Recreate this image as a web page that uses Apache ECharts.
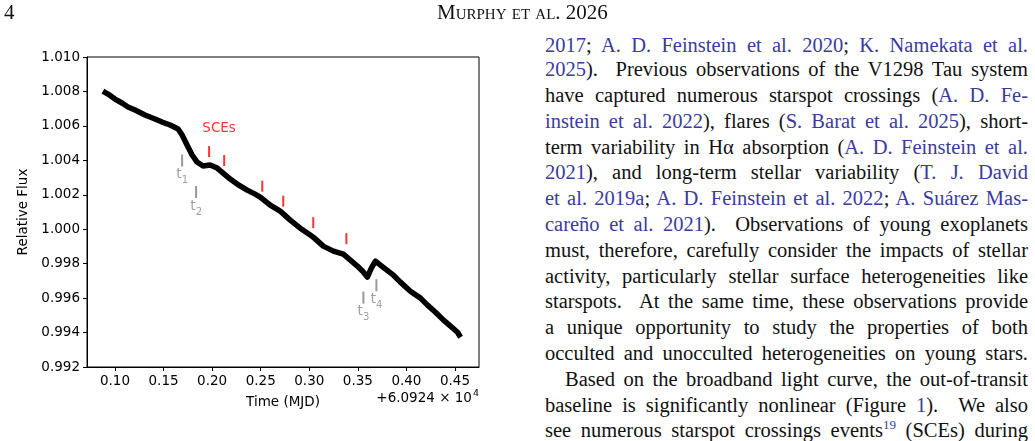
<!DOCTYPE html>
<html lang="en">
<head>
<meta charset="UTF-8">
<title>Light curve</title>
<script src="https://cdn.jsdelivr.net/npm/echarts@6/dist/echarts.min.js"></script>
<style>
    body { margin: 0; background: #fff; }
    #page { position: relative; width: 1035px; height: 441px; overflow: hidden; background: #fff; }
    #chart { position: absolute; left: 0; top: 0; width: 510px; height: 441px; }
    .serif { font-family: "Liberation Serif", "DejaVu Serif", serif; color: #111; }
    .pageno { position: absolute; left: 4px; top: 0px; font-size: 21px; line-height: 24px; }
    .runhead { position: absolute; left: 437px; top: 0px; font-size: 21px; line-height: 24px; font-variant: small-caps; }
    .ln { position: absolute; left: 545px; width: 483px; font-size: 20.5px; line-height: 24px; height: 24px;
          text-align: justify; text-align-last: justify; white-space: nowrap; }
    .ln.indent { left: 565px; width: 463px; }
    .c { color: #3b3b9c; }
    sup { font-size: 13px; line-height: 0; vertical-align: 8px; }
</style>
</head>
<body>
<div id="page">
    <div id="chart"></div>

    <div class="serif pageno">4</div>
    <div class="serif runhead">Murphy et al. 2026</div>

    <div class="serif ln" style="top:33px"><span class="c">2017</span>; <span class="c">A. D. Feinstein et al. 2020</span>; <span class="c">K. Namekata et al.</span></div>
    <div class="serif ln" style="top:57px"><span class="c">2025</span>). &nbsp;Previous observations of the V1298 Tau system</div>
    <div class="serif ln" style="top:83px">have captured numerous starspot crossings (<span class="c">A. D. Fe-</span></div>
    <div class="serif ln" style="top:109px"><span class="c">instein et al. 2022</span>), flares (<span class="c">S. Barat et al. 2025</span>), short-</div>
    <div class="serif ln" style="top:135px">term variability in H&alpha; absorption (<span class="c">A. D. Feinstein et al.</span></div>
    <div class="serif ln" style="top:160px"><span class="c">2021</span>), and long-term stellar variability (<span class="c">T. J. David</span></div>
    <div class="serif ln" style="top:186px"><span class="c">et al. 2019a</span>; <span class="c">A. D. Feinstein et al. 2022</span>; <span class="c">A. Su&aacute;rez Mas-</span></div>
    <div class="serif ln" style="top:212px"><span class="c">care&ntilde;o et al. 2021</span>). &nbsp;Observations of young exoplanets</div>
    <div class="serif ln" style="top:238px">must, therefore, carefully consider the impacts of stellar</div>
    <div class="serif ln" style="top:264px">activity, particularly stellar surface heterogeneities like</div>
    <div class="serif ln" style="top:289px">starspots. &nbsp;At the same time, these observations provide</div>
    <div class="serif ln" style="top:315px">a unique opportunity to study the properties of both</div>
    <div class="serif ln" style="top:341px">occulted and unocculted heterogeneities on young stars.</div>
    <div class="serif ln indent" style="top:367px">Based on the broadband light curve, the out-of-transit</div>
    <div class="serif ln" style="top:393px">baseline is significantly nonlinear (Figure <span class="c">1</span>). &nbsp;We also</div>
    <div class="serif ln" style="top:418px">see numerous starspot crossings events<sup class="c">19</sup> (SCEs) during</div>
</div>

<script>
    // light curve (time offset from 60924 MJD, relative flux)
    var timeVals = [0.0876, 0.0928, 0.1000, 0.1072, 0.1134, 0.1206, 0.1309, 0.1412, 0.1485, 0.1567,
        0.1650, 0.1691, 0.1742, 0.1794, 0.1845, 0.1907, 0.1979, 0.2052, 0.2113, 0.2186,
        0.2258, 0.2361, 0.2443, 0.2495, 0.2598, 0.2701, 0.2804, 0.2907, 0.3010, 0.3041,
        0.3144, 0.3248, 0.3351, 0.3423, 0.3495, 0.3547, 0.3598, 0.3639, 0.3681, 0.3732,
        0.3866, 0.3938, 0.4041, 0.4145, 0.4217, 0.4299, 0.4382, 0.4454, 0.4526, 0.4557];
    var fluxVals = [1.00802, 1.00785, 1.00756, 1.00733, 1.00710, 1.00692, 1.00663, 1.00640, 1.00622, 1.00605,
        1.00582, 1.00547, 1.00489, 1.00431, 1.00390, 1.00367, 1.00373, 1.00355, 1.00326, 1.00291,
        1.00262, 1.00227, 1.00204, 1.00187, 1.00140, 1.00105, 1.00053, 1.00006, 0.99966, 0.99954,
        0.99902, 0.99873, 0.99855, 0.99821, 0.99786, 0.99757, 0.99722, 0.99774, 0.99815, 0.99792,
        0.99733, 0.99693, 0.99640, 0.99600, 0.99559, 0.99518, 0.99472, 0.99437, 0.99402, 0.99373];

    // starspot crossing event markers
    var sceTimes = [0.1969, 0.2124, 0.2516, 0.2732, 0.3041, 0.3382];
    var sceFlux = [1.00451, 1.00399, 1.00250, 1.00163, 1.00038, 0.99945];
    var sceLabel = ['SCEs', 0.2072, 1.00582];

    // contact time markers
    var contactNames = ['1', '2', '3', '4'];
    var contactTimes = [0.1691, 0.1835, 0.3557, 0.3691];
    var contactFlux = [1.00399, 1.00216, 0.99603, 0.99675];

    var xTicks = [0.10, 0.15, 0.20, 0.25, 0.30, 0.35, 0.40, 0.45];

    var chart = echarts.init(document.getElementById('chart'));

    var curve = timeVals.map(function (t, i) { return [t, fluxVals[i]]; });
    var sce = sceTimes.map(function (t, i) { return [t, sceFlux[i]]; });
    var contacts = contactTimes.map(function (t, i) { return [t, contactFlux[i], contactNames[i]]; });

    var font = 'DejaVu Sans';

    chart.setOption({
        animation: false,
        backgroundColor: '#fff',
        grid: {
            left: 87, top: 57, width: 392, height: 310,
            show: true, borderColor: '#000', borderWidth: 1, backgroundColor: 'transparent'
        },
        xAxis: {
            type: 'value',
            min: 0.0712,
            max: 0.4747,
            name: 'Time (MJD)',
            nameLocation: 'middle',
            nameGap: 28,
            nameTextStyle: { fontFamily: font, fontSize: 13.5, color: '#000' },
            splitLine: { show: false },
            axisLine: { lineStyle: { color: '#000', width: 1 } },
            axisTick: { show: true, inside: false, length: 4, customValues: xTicks, lineStyle: { color: '#000' } },
            axisLabel: {
                customValues: xTicks, margin: 7,
                fontFamily: font, fontSize: 13.5, color: '#000',
                formatter: function (v) { return v.toFixed(2); }
            }
        },
        yAxis: {
            type: 'value',
            min: 0.992,
            max: 1.010,
            interval: 0.002,
            name: 'Relative Flux',
            nameLocation: 'middle',
            nameGap: 56,
            nameTextStyle: { fontFamily: font, fontSize: 13.5, color: '#000' },
            splitLine: { show: false },
            axisLine: { show: true, lineStyle: { color: '#000', width: 1 } },
            axisTick: { show: true, inside: false, length: 4, lineStyle: { color: '#000' } },
            axisLabel: {
                margin: 7, fontFamily: font, fontSize: 13.5, color: '#000',
                formatter: function (v) { return v.toFixed(3); }
            }
        },
        graphic: [{
            type: 'text',
            right: 31,
            top: 389,
            style: {
                text: '{b|+6.0924 \u00d7 10}{p|4}',
                rich: {
                    b: { font: '13.5px "DejaVu Sans"', fill: '#000', verticalAlign: 'bottom', lineHeight: 16 },
                    p: { font: '9.5px "DejaVu Sans"', fill: '#000', verticalAlign: 'top', lineHeight: 10, padding: [0, 0, 8, 1] }
                }
            }
        }],
        series: [{
            type: 'line',
            data: curve,
            showSymbol: false,
            lineStyle: { color: '#000', width: 5.5, join: 'round' },
            z: 3
        }, {
            type: 'scatter',
            data: sce,
            symbol: 'rect',
            symbolSize: [2, 11],
            itemStyle: { color: '#ff0000' },
            z: 4
        }, {
            type: 'scatter',
            data: [[sceLabel[1], sceLabel[2]]],
            symbolSize: 0,
            label: {
                show: true, position: 'inside', formatter: sceLabel[0],
                fontFamily: font, fontSize: 13.5, color: '#ff0000'
            },
            z: 4
        }, {
            type: 'scatter',
            data: contacts,
            symbol: 'rect',
            symbolSize: [2, 12],
            itemStyle: { color: '#808080' },
            label: {
                show: true, position: 'bottom', distance: 1,
                formatter: function (p) { return '{a|t}{s|' + p.data[2] + '}'; },
                rich: {
                    a: { fontFamily: font, fontSize: 14, color: '#8a8a8a', verticalAlign: 'top', lineHeight: 16 },
                    s: { fontFamily: font, fontSize: 10, color: '#8a8a8a', verticalAlign: 'top', lineHeight: 11, padding: [8, 0, 0, 0] }
                }
            },
            z: 4
        }]
    });
</script>
</body>
</html>
